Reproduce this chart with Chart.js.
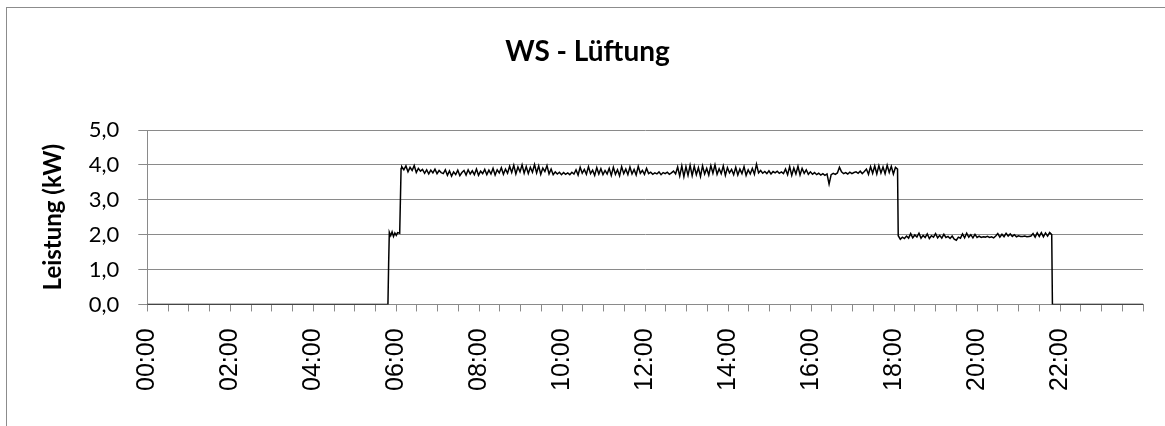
<!DOCTYPE html>
<html>
<head>
<meta charset="utf-8">
<script src="https://cdn.jsdelivr.net/npm/chart.js@4.4.1/dist/chart.umd.min.js"></script>
<style>
  html, body { margin: 0; padding: 0; background: #fff; overflow: hidden; }
  #wrap { position: relative; width: 1165px; height: 426px; }
  #frame { position: absolute; left: 6px; top: 7px; width: 1200px; height: 500px; border: 1px solid #8c8c8c; pointer-events: none; }
</style>
</head>
<body>
<div id="wrap">
  <canvas id="chart" width="1165" height="426"></canvas>
  <div id="frame"></div>
</div>
<script>
// minutes since midnight / power in kW
const rampTimes = [0, 348, 349, 350, 352, 354, 356, 358, 360, 362, 365, 367];
const rampValues = [0, 0, 1.15, 2.07, 1.97, 2.08, 1.95, 2.05, 1.98, 2.06, 2.04, 3.9];

const SAMPLE_STEP = 3;

const dayStart = 368;
const dayValues = [
  3.95, 3.86, 3.97, 3.80, 3.93, 3.84, 3.98, 3.78, 3.90, 3.82,
  3.87, 3.76, 3.86, 3.74, 3.85, 3.77, 3.88, 3.75, 3.84, 3.78,
  3.75, 3.86, 3.70, 3.83, 3.68, 3.80, 3.72, 3.85, 3.69, 3.78,
  3.84, 3.71, 3.86, 3.74, 3.83, 3.72, 3.88, 3.70, 3.82, 3.75,
  3.87, 3.72, 3.85, 3.74, 3.90, 3.71, 3.86, 3.77, 3.92, 3.73,
  3.88, 3.76, 3.96, 3.78, 3.99, 3.74, 3.94, 3.80, 4.00, 3.76,
  3.95, 3.75, 3.93, 3.79, 4.01, 3.77, 3.97, 3.73, 3.91, 3.81,
  3.98, 3.74, 3.88, 3.72, 3.80, 3.74, 3.79, 3.72, 3.78, 3.73,
  3.77, 3.72, 3.79, 3.74, 3.86, 3.71, 3.93, 3.76, 3.87, 3.73,
  3.95, 3.75, 3.85, 3.70, 3.92, 3.74, 3.89, 3.72, 3.84, 3.74,
  3.90, 3.70, 3.93, 3.73, 3.86, 3.69, 3.95, 3.75, 3.88, 3.72,
  3.94, 3.74, 3.87, 3.71, 3.96, 3.76, 3.84, 3.73, 3.90, 3.75,
  3.79, 3.73, 3.77, 3.74, 3.80, 3.72, 3.78, 3.75, 3.79, 3.73,
  3.77, 3.82, 3.74, 3.94, 3.68, 3.97, 3.66, 3.95, 3.70, 3.99,
  3.69, 3.96, 3.72, 3.92, 3.67, 3.97, 3.74, 3.90, 3.71, 3.98,
  3.76, 4.00, 3.73, 3.89, 3.75, 3.97, 3.70, 3.92, 3.77, 3.87,
  3.72, 3.93, 3.71, 3.88, 3.75, 3.95, 3.70, 3.86, 3.74, 3.90,
  3.73, 4.02, 3.77, 3.84, 3.76, 3.81, 3.75, 3.83, 3.74, 3.81,
  3.77, 3.82, 3.76, 3.80, 3.75, 3.88, 3.72, 3.95, 3.70, 3.91,
  3.74, 3.96, 3.71, 3.90, 3.76, 3.86, 3.73, 3.80, 3.73, 3.78,
  3.72, 3.76, 3.71, 3.75, 3.70, 3.74, 3.45, 3.72, 3.76, 3.73,
  3.77, 3.93, 3.80, 3.75, 3.78, 3.74, 3.79, 3.75, 3.78, 3.80,
  3.76, 3.82, 3.75, 3.81, 3.88, 3.73, 3.95, 3.76, 3.97, 3.74,
  3.98, 3.77, 3.94, 3.75, 3.99, 3.78, 3.96, 3.74, 3.93, 3.88
];

const eveningStart = 1086;
const eveningValues = [
  1.97, 1.87, 1.93, 1.89, 1.96, 1.90, 2.03, 1.91, 1.99, 1.93,
  2.04, 1.90, 1.98, 1.92, 2.02, 1.89, 1.97, 1.93, 2.03, 1.91,
  1.98, 1.90, 2.01, 1.92, 1.95, 1.89, 1.96, 1.87, 1.84, 1.93,
  1.90, 2.02, 1.91, 2.04, 1.93, 2.00, 1.91, 2.01, 1.92, 1.96,
  1.92, 1.94, 1.93, 1.95, 1.92, 1.94, 1.91, 1.96, 2.03, 1.93,
  2.01, 1.94, 2.04, 1.96, 2.02, 1.95, 2.00, 1.94, 1.97, 1.95,
  1.95, 1.96, 1.94, 1.95, 1.96, 2.03, 1.93, 2.05, 1.95, 2.06,
  1.94, 2.05, 1.96, 2.06, 2.00
];

const offTimes = [1309, 1440];
const offValues = [0, 0];

const yTicks = [0, 1, 2, 3, 4, 5];
const chartTitle = 'WS - Lüftung';

const points = [];
rampTimes.forEach((t, i) => points.push({ x: t, y: rampValues[i] }));
dayValues.forEach((v, i) => points.push({ x: dayStart + i * SAMPLE_STEP, y: v }));
eveningValues.forEach((v, i) => points.push({ x: eveningStart + i * SAMPLE_STEP, y: v }));
offTimes.forEach((t, i) => points.push({ x: t, y: offValues[i] }));

const gridColor = '#8a8a8a';
const calibriLike = 'Lato, "Open Sans", sans-serif';

// title sits a bit off the plot centre, like in the spreadsheet export
const titlePlugin = {
  id: 'sheetTitle',
  afterDraw: (chart) => {
    const ctx = chart.ctx;
    ctx.save();
    ctx.font = 'bold 28px ' + calibriLike;
    ctx.fillStyle = '#000';
    ctx.textAlign = 'center';
    ctx.textBaseline = 'alphabetic';
    ctx.fillText(chartTitle, chart.width / 2 + 5, 61);
    ctx.restore();
  },
};

new Chart(document.getElementById('chart'), {
  type: 'line',
  data: {
    datasets: [
      {
        label: chartTitle,
        data: points,
        borderColor: '#000',
        borderWidth: 1.5,
        pointRadius: 0,
        tension: 0,
        fill: false,
      },
    ],
  },
  plugins: [titlePlugin],
  options: {
    responsive: false,
    animation: false,
    events: [],
    layout: {
      padding: { left: 35, right: 22, top: 130, bottom: 18 },
    },
    plugins: {
      legend: { display: false },
      tooltip: { enabled: false },
      title: { display: false },
    },
    scales: {
      x: {
        type: 'linear',
        min: 0,
        max: 1440,
        border: { color: gridColor, width: 1 },
        grid: {
          drawOnChartArea: false,
          drawTicks: true,
          tickLength: 7,
          color: gridColor,
        },
        // last (empty) tick label should not reserve room on the right
        afterFit: (axis) => {
          axis.paddingRight = 0;
        },
        ticks: {
          stepSize: 30,
          autoSkip: false,
          minRotation: 90,
          maxRotation: 90,
          padding: 17,
          color: '#000',
          font: { family: '"Liberation Sans", Arial, sans-serif', size: 25 },
          callback: (v) => {
            if (v % 120 !== 0 || v >= 1440) return '';
            return String(v / 60).padStart(2, '0') + ':00';
          },
        },
      },
      y: {
        min: 0,
        max: 5,
        border: { color: gridColor, width: 1 },
        grid: {
          color: gridColor,
          tickLength: 9,
        },
        afterBuildTicks: (axis) => {
          axis.ticks = yTicks.map((v) => ({ value: v }));
        },
        ticks: {
          padding: 19,
          color: '#000',
          font: { family: calibriLike, size: 22 },
          callback: (v) => v.toFixed(1).replace('.', ','),
        },
        title: {
          display: true,
          text: 'Leistung (kW)',
          color: '#000',
          font: { family: calibriLike, size: 24, weight: 'bold' },
          padding: { top: 4, bottom: 2 },
        },
      },
    },
  },
});
</script>
</body>
</html>
